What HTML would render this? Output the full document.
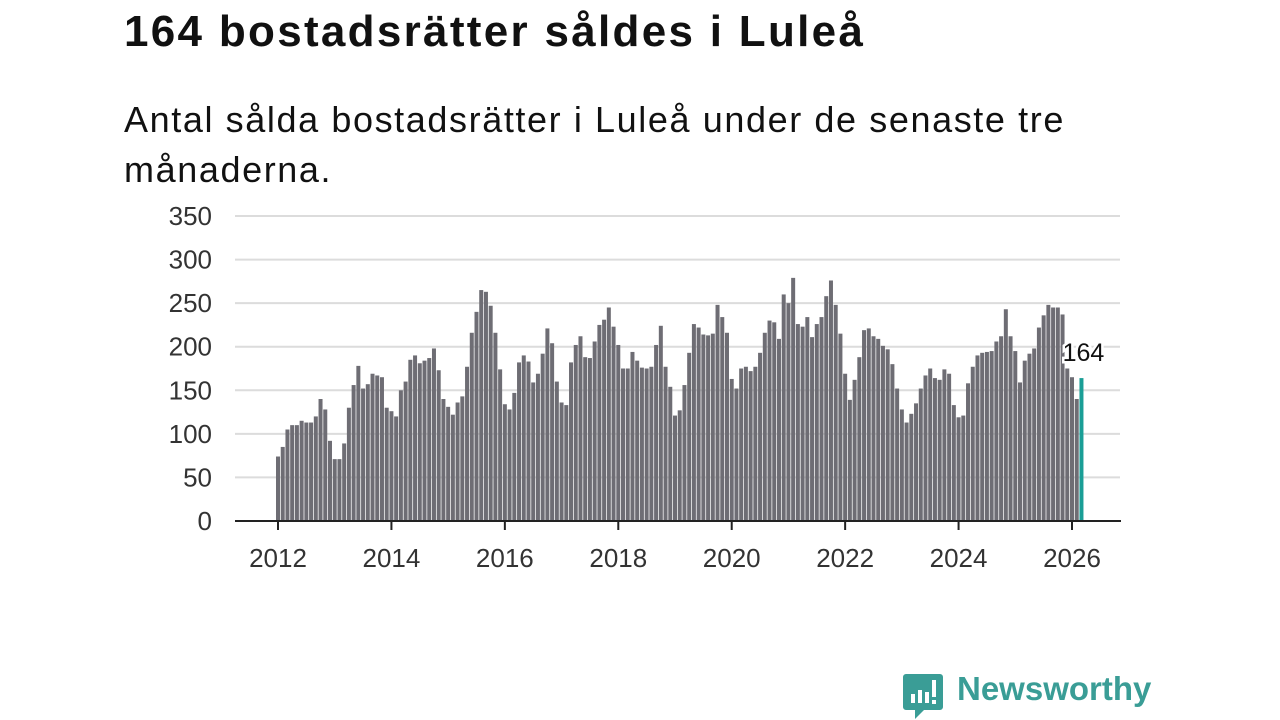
<!DOCTYPE html>
<html><head><meta charset="utf-8">
<style>
html,body{margin:0;padding:0;background:#fff;}
body{width:1280px;height:720px;position:relative;overflow:hidden;font-family:"Liberation Sans",sans-serif;color:#111;}
#title{position:absolute;left:124px;top:7px;font-size:44px;font-weight:bold;margin:0;letter-spacing:2.3px;white-space:nowrap;}
#sub{position:absolute;left:124px;top:95px;font-size:36px;line-height:50px;width:990px;margin:0;letter-spacing:1.6px;}
svg{position:absolute;left:0;top:0;}
#logo-text{position:absolute;left:957px;top:670px;font-size:33px;font-weight:bold;color:#3a9d96;}
</style></head><body>
<h1 id="title">164 bostadsrätter såldes i Luleå</h1>
<p id="sub">Antal sålda bostadsrätter i Luleå under de senaste tre månaderna.</p>
<svg id="chart" width="1280" height="720"></svg>
<svg width="1280" height="720">
<path d="M906 674 h34 a3 3 0 0 1 3 3 v30 a3 3 0 0 1 -3 3 h-16 l-9 9 v-9 h-9 a3 3 0 0 1 -3 -3 v-30 a3 3 0 0 1 3 -3z" fill="#3a9d96"/>
<rect x="911" y="694" width="4" height="9" fill="#fff"/><rect x="918" y="690" width="4" height="13" fill="#fff"/><rect x="925" y="692" width="4" height="11" fill="#fff"/><rect x="932" y="680" width="4" height="17" fill="#fff"/><rect x="932" y="700" width="4" height="4" fill="#fff"/>
</svg>
<div id="logo-text">Newsworthy</div>
<script>
const startYear = 2012;
const values2012_2015 = [74,85,105,110,110,115,113,113,120,140,128,92, 71,71,89,130,156,178,152,157,169,167,165,130, 126,120,150,160,185,190,181,184,187,198,173,140, 131,122,136,143,177,216,240,265,263,247,216,174];
const values2016_2019 = [134,128,147,182,190,183,159,169,192,221,204,160, 136,133,182,202,212,188,187,206,225,231,245,223, 202,175,175,194,184,176,175,177,202,224,177,154, 121,127,156,193,226,222,214,213,215,248,234,216];
const values2020_2023 = [163,152,175,177,172,177,193,216,230,228,209,260, 250,279,226,223,234,211,226,234,258,276,248,215, 169,139,162,188,219,221,212,209,201,197,180,152, 128,113,123,135,152,167,175,164,162,174,169,133];
const values2024_2026 = [119,121,158,177,190,193,194,195,206,212,243,212, 195,159,184,192,198,222,236,248,245,245,237,175, 165,140,164];
const values = values2012_2015.concat(values2016_2019, values2020_2023, values2024_2026);
const yTicks = [0,50,100,150,200,250,300,350];
const xTicks = [2012,2014,2016,2018,2020,2022,2024,2026];

const NS='http://www.w3.org/2000/svg';
const svg=document.getElementById('chart');
const x0=278, xPerYear=(1072-278)/14, y0=521, yPer=305/350;
const xm=i=>x0+i*xPerYear/12;
const yv=v=>y0-v*yPer;
function mk(t,a){const e=document.createElementNS(NS,t);for(const k in a)e.setAttribute(k,a[k]);svg.appendChild(e);return e;}
yTicks.forEach(t=>{
  const g=mk('line',{x1:235,x2:1120,y1:yv(t),y2:yv(t),stroke:'#dcdcdc','stroke-width':2});
  
  
  const l=mk('text',{x:212,y:yv(t)+9,'text-anchor':'end','font-size':26,fill:'#333','font-family':'Liberation Sans, sans-serif'});
  l.textContent=t;
  
  
});
values.forEach((v,i)=>{
  const last=i===values.length-1;
  const b=mk('rect',{x:xm(i)-2,y:yv(v),width:4,height:v*yPer,fill:last?'#1a9e96':'#6e6d74'});
  
  
});
const ax=mk('line',{x1:235,x2:1121,y1:y0,y2:y0,stroke:'#222','stroke-width':2});


xTicks.forEach(t=>{
  const x=xm((t-startYear)*12);
  const tk=mk('line',{x1:x,x2:x,y1:y0,y2:y0+9,stroke:'#222','stroke-width':2});
  
  
  const l=mk('text',{x:x,y:567,'text-anchor':'middle','font-size':26,fill:'#333','font-family':'Liberation Sans, sans-serif'});
  l.textContent=t;
  
  
});
const lv=values[values.length-1];
const lab=mk('text',{x:xm(values.length-1)+2,y:yv(lv)-17,'text-anchor':'middle','font-size':25,fill:'#111',stroke:'#fff','stroke-width':5,'paint-order':'stroke','font-family':'Liberation Sans, sans-serif'});
lab.textContent=lv;


</script>
</body></html>
